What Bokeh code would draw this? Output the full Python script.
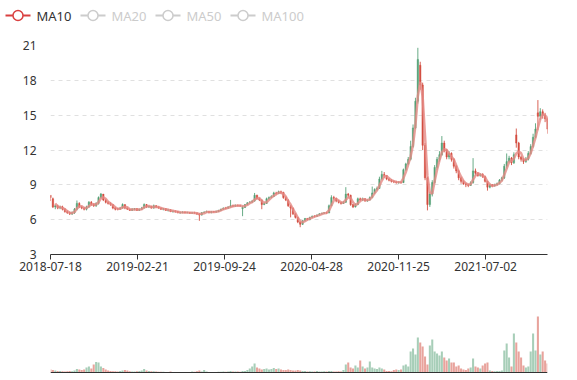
import numpy as np
import pandas as pd
from bokeh.plotting import figure
from bokeh.models import ColumnDataSource, Range1d, FixedTicker, Span
from bokeh.layouts import column
from bokeh.core.properties import value
from bokeh.embed import file_html
from bokeh.resources import INLINE

# ---------------- data (one candle per 4 trading days) ----------------
OPEN = [8.1, 7.8, 7.1, 7.2, 7.0, 7.1, 6.9, 6.7, 6.6, 6.5,
        6.6, 6.9, 7.4, 7.1, 7.0, 6.9, 7.1, 7.5, 7.3, 7.2,
        7.4, 7.9, 8.2, 7.7, 7.5, 7.4, 7.3, 7.0, 6.95, 6.9,
        7.0, 7.3, 7.0, 6.9, 6.8, 6.9, 6.95, 6.8, 6.9, 7.0,
        7.3, 7.1, 7.15, 7.0, 7.2, 7.1, 7.0, 6.9, 6.95, 6.8,
        6.85, 6.7, 6.75, 6.7, 6.6, 6.62, 6.66, 6.6, 6.62, 6.55,
        6.6, 6.58, 6.5, 6.4, 6.6, 6.65, 6.7, 6.6, 6.7, 6.65,
        6.7, 6.8, 6.9, 7.0, 6.98, 7.1, 7.2, 7.15, 7.25, 7.22,
        6.95, 7.05, 7.3, 7.45, 7.5, 7.6, 8.1, 7.8, 7.7, 7.3,
        7.4, 7.8, 7.9, 8.0, 8.3, 8.25, 8.4, 8.35, 7.9, 7.7,
        7.2, 7.0, 6.5, 6.2, 5.8, 5.6, 5.9, 6.1, 6.0, 6.2,
        6.3, 6.28, 6.4, 6.5, 6.55, 6.6, 6.58, 7.2, 7.9, 7.85,
        7.6, 7.5, 7.4, 7.5, 8.2, 8.1, 7.3, 7.1, 7.3, 7.8,
        7.7, 7.8, 7.6, 7.7, 7.9, 8.3, 8.6, 8.7, 9.5, 9.9,
        9.8, 9.5, 9.4, 9.3, 9.25, 9.2, 9.25, 9.2, 10.3, 10.8,
        11.2, 12.3, 13.9, 16.2, 19.3, 17.6, 12.4, 9.6, 7.3, 8.2,
        9.2, 10.5, 11.2, 11.6, 12.6, 12.0, 11.4, 11.7, 11.2, 10.6,
        10.2, 9.6, 9.3, 9.1, 9.0, 8.95, 9.2, 10.2, 10.0, 9.8,
        9.9, 9.7, 9.3, 8.8, 9.0, 8.9, 9.0, 9.1, 9.4, 9.6,
        10.6, 11.0, 11.3, 10.9, 13.3, 12.6, 11.4, 11.2, 11.0, 11.2,
        11.7, 12.3, 13.1, 15.2, 14.9, 15.3, 15.0, 14.7]

CLOSE = [7.9, 7.1, 7.2, 7.0, 7.1, 6.9, 6.7, 6.6, 6.5, 6.6,
         6.9, 7.4, 7.1, 7.0, 6.9, 7.1, 7.5, 7.3, 7.2, 7.4,
         7.9, 8.2, 7.7, 7.5, 7.4, 7.3, 7.0, 6.9, 6.9, 7.0,
         7.3, 7.0, 6.9, 6.8, 6.9, 6.95, 6.8, 6.9, 7.0, 7.3,
         7.1, 7.15, 7.0, 7.2, 7.1, 7.0, 6.9, 6.95, 6.8, 6.85,
         6.7, 6.75, 6.7, 6.6, 6.62, 6.66, 6.6, 6.62, 6.55, 6.6,
         6.58, 6.5, 6.4, 6.6, 6.65, 6.7, 6.6, 6.7, 6.65, 6.7,
         6.8, 6.9, 7.0, 6.98, 7.1, 7.2, 7.15, 7.25, 7.2, 7.2,
         7.05, 7.3, 7.45, 7.5, 7.6, 8.1, 7.8, 7.7, 7.3, 7.4,
         7.8, 7.9, 8.0, 8.3, 8.25, 8.4, 8.35, 7.9, 7.7, 7.2,
         7.0, 6.5, 6.2, 5.8, 5.6, 5.9, 6.1, 6.0, 6.2, 6.3,
         6.28, 6.4, 6.5, 6.55, 6.6, 6.58, 7.2, 7.9, 7.85, 7.6,
         7.5, 7.4, 7.5, 8.2, 8.1, 7.3, 7.1, 7.3, 7.8, 7.7,
         7.8, 7.6, 7.7, 7.9, 8.3, 8.6, 8.7, 9.5, 9.9, 9.8,
         9.5, 9.4, 9.3, 9.25, 9.2, 9.25, 9.2, 10.3, 10.8, 11.2,
         12.3, 13.9, 16.2, 19.8, 17.6, 12.4, 9.6, 7.3, 8.2, 9.2,
         10.5, 11.2, 11.6, 12.6, 12.0, 11.4, 11.7, 11.2, 10.6, 10.2,
         9.6, 9.3, 9.1, 9.0, 8.95, 9.2, 10.2, 10.0, 9.8, 9.9,
         9.7, 9.3, 8.8, 9.0, 8.9, 9.0, 9.1, 9.4, 9.6, 10.6,
         11.0, 11.3, 10.9, 11.6, 12.6, 11.4, 11.2, 11.0, 11.2, 11.7,
         12.3, 13.1, 13.8, 14.9, 15.3, 15.0, 14.7, 13.8]

LOW = [7.6, 7.0, 6.9, 6.9, 6.9, 6.8, 6.6, 6.5, 6.4, 6.4,
       6.5, 6.8, 7.0, 6.9, 6.8, 6.8, 7.0, 7.2, 7.1, 7.1,
       7.3, 7.8, 7.6, 7.4, 7.3, 7.2, 6.9, 6.8, 6.8, 6.85,
       6.95, 6.9, 6.85, 6.75, 6.75, 6.8, 6.75, 6.75, 6.85, 6.95,
       7.0, 7.0, 6.95, 6.95, 7.0, 6.95, 6.85, 6.8, 6.75, 6.7,
       6.65, 6.6, 6.6, 6.55, 6.5, 6.55, 6.55, 6.55, 6.5, 6.5,
       6.5, 6.4, 5.9, 6.35, 6.55, 6.6, 6.55, 6.55, 6.6, 6.6,
       6.65, 6.75, 6.85, 6.9, 6.95, 7.05, 7.1, 7.1, 7.15, 7.1,
       6.3, 7.0, 7.25, 7.4, 7.45, 7.55, 7.75, 7.6, 6.9, 7.25,
       7.35, 7.7, 7.85, 7.95, 8.15, 8.2, 8.2, 7.8, 7.6, 7.1,
       6.2, 6.4, 6.1, 5.7, 5.35, 5.55, 5.85, 5.95, 5.95, 6.15,
       6.2, 6.25, 6.35, 6.45, 6.5, 6.5, 6.55, 7.15, 7.7, 7.5,
       7.4, 7.3, 7.35, 7.45, 7.9, 7.2, 7.0, 7.05, 7.25, 7.6,
       7.6, 7.55, 7.55, 7.65, 7.85, 8.2, 8.5, 8.65, 9.4, 9.6,
       9.4, 9.3, 9.2, 9.15, 9.1, 9.1, 9.1, 9.15, 10.2, 10.7,
       11.1, 12.2, 13.8, 16.0, 17.2, 12.0, 9.4, 6.8, 7.1, 8.0,
       9.1, 10.3, 11.0, 11.5, 11.8, 11.2, 11.2, 11.0, 10.4, 10.0,
       9.4, 9.1, 9.0, 8.8, 8.8, 8.9, 9.1, 9.8, 9.7, 9.7,
       9.6, 9.2, 8.5, 8.7, 8.8, 8.85, 8.95, 9.05, 9.3, 9.5,
       10.4, 10.9, 10.7, 10.8, 12.2, 11.2, 11.0, 10.8, 10.9, 11.1,
       11.6, 12.2, 13.0, 13.7, 14.6, 14.7, 14.4, 13.4]

HIGH = [8.1, 7.9, 7.3, 7.3, 7.2, 7.2, 7.0, 6.8, 6.7, 6.7,
        7.0, 7.65, 7.5, 7.2, 7.1, 7.2, 7.6, 7.6, 7.4, 7.5,
        8.0, 8.3, 8.2, 7.8, 7.6, 7.5, 7.3, 7.1, 7.0, 7.1,
        7.4, 7.3, 7.05, 6.95, 7.0, 7.0, 7.0, 6.95, 7.1, 7.4,
        7.35, 7.2, 7.2, 7.3, 7.25, 7.15, 7.05, 7.0, 7.0, 6.9,
        6.9, 6.8, 6.8, 6.75, 6.7, 6.72, 6.7, 6.68, 6.66, 6.65,
        6.68, 6.62, 6.55, 6.65, 6.72, 6.78, 6.75, 6.75, 6.75, 6.78,
        6.85, 6.95, 7.05, 7.1, 7.15, 7.7, 7.3, 7.3, 7.3, 7.28,
        7.2, 7.35, 7.5, 7.6, 7.7, 8.3, 8.15, 7.9, 7.75, 7.5,
        7.9, 8.0, 8.1, 8.4, 8.4, 8.5, 8.5, 8.4, 8.0, 7.75,
        7.25, 7.05, 6.55, 6.25, 5.85, 5.95, 6.15, 6.15, 6.25, 6.35,
        6.38, 6.45, 6.55, 6.6, 6.65, 6.68, 7.3, 8.1, 8.05, 7.9,
        7.7, 7.55, 7.6, 8.8, 8.3, 8.15, 7.35, 7.4, 7.9, 7.9,
        7.9, 7.85, 7.75, 8.0, 8.85, 8.7, 8.85, 9.7, 10.2, 10.1,
        9.85, 9.6, 9.5, 9.4, 9.35, 9.3, 9.3, 10.4, 10.9, 11.4,
        12.8, 14.2, 16.5, 20.8, 19.6, 17.8, 12.6, 9.7, 8.4, 9.4,
        10.7, 11.4, 11.9, 13.2, 12.8, 12.1, 11.9, 11.8, 11.3, 10.7,
        10.3, 9.7, 9.4, 9.2, 9.1, 9.3, 11.3, 10.4, 10.1, 10.0,
        10.0, 9.8, 9.35, 9.1, 9.05, 9.1, 9.2, 9.5, 9.7, 10.8,
        11.7, 11.5, 11.4, 11.8, 13.85, 12.7, 11.5, 11.3, 11.4, 11.9,
        12.5, 13.4, 14.3, 16.3, 15.6, 15.5, 15.2, 14.9]

VOLUME = [3, 2.5, 2, 1.5, 1.5, 1.2, 1.0, 1.2, 1.5, 1.2,
          2, 3.5, 3, 2.5, 3, 5, 6, 4, 8, 10.5,
          10, 6, 4.5, 3, 2, 1.5, 1.2, 1.2, 1, 1.5,
          2, 2.5, 2, 1.2, 1, 1, 1.2, 1.5, 2, 3.5,
          2, 1.5, 1.2, 1.2, 1, 0.8, 0.8, 0.8, 0.6, 0.6,
          1, 0.6, 0.6, 0.5, 0.5, 0.6, 0.5, 0.6, 0.5, 1,
          0.8, 1.2, 2, 1, 2.5, 1, 0.6, 0.6, 0.5, 0.6,
          0.8, 0.8, 1, 0.8, 1, 1.5, 1, 1, 1, 0.8,
          1.5, 1.5, 2.5, 4, 6, 9, 5, 4, 3, 3.5,
          4, 3, 3.5, 4.5, 3.5, 4, 3, 2.5, 2.5, 3,
          2.5, 2, 2, 2.5, 2, 1.5, 1.5, 1, 1.2, 1,
          1, 1.5, 1, 1, 1.2, 1, 1.5, 1.5, 1, 1,
          1.2, 1, 2.5, 8, 10, 5, 4, 7, 5, 12,
          6, 4, 5, 11, 5, 4, 3.5, 5, 4, 3,
          1.5, 1.5, 1.2, 2.5, 3, 2.5, 3, 7, 8, 6,
          21, 24, 18, 35, 30, 26, 16, 8, 27, 33,
          21, 19, 17, 21, 15, 12, 14, 10, 10, 6,
          7, 4, 3, 2.5, 4, 5, 14, 6, 5, 4,
          7, 9, 10, 2, 1.5, 1.2, 1.5, 1.5, 2, 22,
          29, 15, 6, 39, 30, 21, 15, 7, 5, 6,
          21, 39, 22, 56, 18, 21, 12, 9]

DAYS_PER_CANDLE = 4
N_DAYS = 829
TICK_DAYS = [0, 145, 290, 435, 580, 725]
TICK_LABELS = ["2018-07-18", "2019-02-21", "2019-09-24",
               "2020-04-28", "2020-11-25", "2021-07-02"]
Y_TICKS = [3, 6, 9, 12, 15, 18, 21]
MA_NAMES = ["MA10", "MA20", "MA50", "MA100"]
MA_SHOWN = [True, False, False, False]
MA10_WINDOW = 3  # ~10 trading days at 4 days per candle

# ---------------- styling ----------------
FONT = "Noto Sans"
UP = "#4f9e72"
DOWN = "#d2483a"
MA_COLOR = "#d94040"
MA_LINE = "#e58a84"
OFF_COLOR = "#cccccc"
W = 577

o = np.array(OPEN); c = np.array(CLOSE)
l = np.array(LOW); h = np.array(HIGH); v = np.array(VOLUME)
day = np.arange(len(c)) * DAYS_PER_CANDLE
colors = np.where(c >= o, UP, DOWN)
src = ColumnDataSource(dict(day=day, low=l, high=h,
                            top=np.maximum(o, c), bottom=np.minimum(o, c),
                            vol=v, color=colors))
ma10 = pd.Series(c).rolling(MA10_WINDOW).mean().to_numpy()

xr = Range1d(0, N_DAYS - 1)

# ---- legend strip (pixel-space figure) ----
p0 = figure(width=W, height=30, x_range=Range1d(0, W), y_range=Range1d(30, 0),
            output_backend="svg", toolbar_location=None, min_border=0)
p0.frame_align = False
p0.axis.visible = False
p0.grid.visible = False
p0.outline_line_color = None
ITEM_STEP, ITEM_X0, ROW_Y = 75, 5, 15
leg_x = [ITEM_X0 + i * ITEM_STEP for i in range(len(MA_NAMES))]
icol = [MA_COLOR if s else OFF_COLOR for s in MA_SHOWN]
tcol = ["#333333" if s else OFF_COLOR for s in MA_SHOWN]
lsrc = ColumnDataSource(dict(x0=leg_x, x1=[x + 25 for x in leg_x], xc=[x + 12.5 for x in leg_x],
                             xt=[x + 31 for x in leg_x], y=[ROW_Y] * len(MA_NAMES),
                             col=icol, tcol=tcol, name=MA_NAMES))
p0.segment(x0="x0", y0="y", x1="x1", y1="y", line_color="col", line_width=2, source=lsrc)
p0.scatter(x="xc", y="y", size=10, fill_color="white", line_color="col", line_width=1.5, source=lsrc)
p0.text(x="xt", y="y", text="name", text_color="tcol", text_font=value(FONT),
        text_font_size="13px", text_baseline="middle", source=lsrc)

# ---- price chart ----
p1 = figure(width=W, height=254, x_range=xr, y_range=Range1d(3, 21),
            output_backend="svg", toolbar_location=None,
            min_border_left=50, min_border_right=30, min_border_top=15, min_border_bottom=30)
p1.outline_line_color = None
p1.segment(x0="day", y0="low", x1="day", y1="high", line_color="color", line_width=1,
           line_alpha=0.85, source=src)
p1.vbar(x="day", width=2.4, top="top", bottom="bottom", fill_color="color", fill_alpha=0.85,
        line_color="color", line_alpha=0.85, line_width=0.5, source=src)
p1.line(day, ma10, line_color=MA_LINE, line_alpha=0.8, line_width=2.5)

p1.xaxis.ticker = FixedTicker(ticks=TICK_DAYS)
p1.xaxis.major_label_overrides = {d: s for d, s in zip(TICK_DAYS, TICK_LABELS)}
p1.xaxis.minor_tick_line_color = None
p1.xaxis.major_tick_in = 0
p1.xaxis.major_tick_out = 5
p1.xaxis.axis_line_color = "#333333"
p1.xaxis.major_tick_line_color = "#333333"
p1.xaxis.major_label_standoff = 2
p1.xgrid.visible = False

p1.yaxis.ticker = FixedTicker(ticks=Y_TICKS)
p1.yaxis.axis_line_color = None
p1.yaxis.major_tick_line_color = None
p1.yaxis.minor_tick_line_color = None
p1.yaxis.major_label_standoff = 8
p1.ygrid.grid_line_dash = "4 4"
p1.ygrid.grid_line_color = "#e0e0e0"
for ax in (p1.xaxis[0], p1.yaxis[0]):
    ax.major_label_text_font = FONT
    ax.major_label_text_font_size = "12px"
    ax.major_label_text_color = "#333333"

# ---- volume chart ----
p2 = figure(width=W, height=90, x_range=xr, y_range=Range1d(-2, 70),
            output_backend="svg", toolbar_location=None,
            min_border_left=50, min_border_right=30, min_border_top=18, min_border_bottom=0)
p2.outline_line_color = None
p2.axis.visible = False
p2.grid.visible = False
p2.vbar(x="day", width=3.4, top="vol", bottom=0, fill_color="color", line_color=None,
        fill_alpha=0.5, source=src)
p2.add_layout(Span(location=0, dimension="width", line_color="#333333", line_width=1))

layout = column(p0, p1, p2)
open("out.html", "w").write(file_html(layout, INLINE))
